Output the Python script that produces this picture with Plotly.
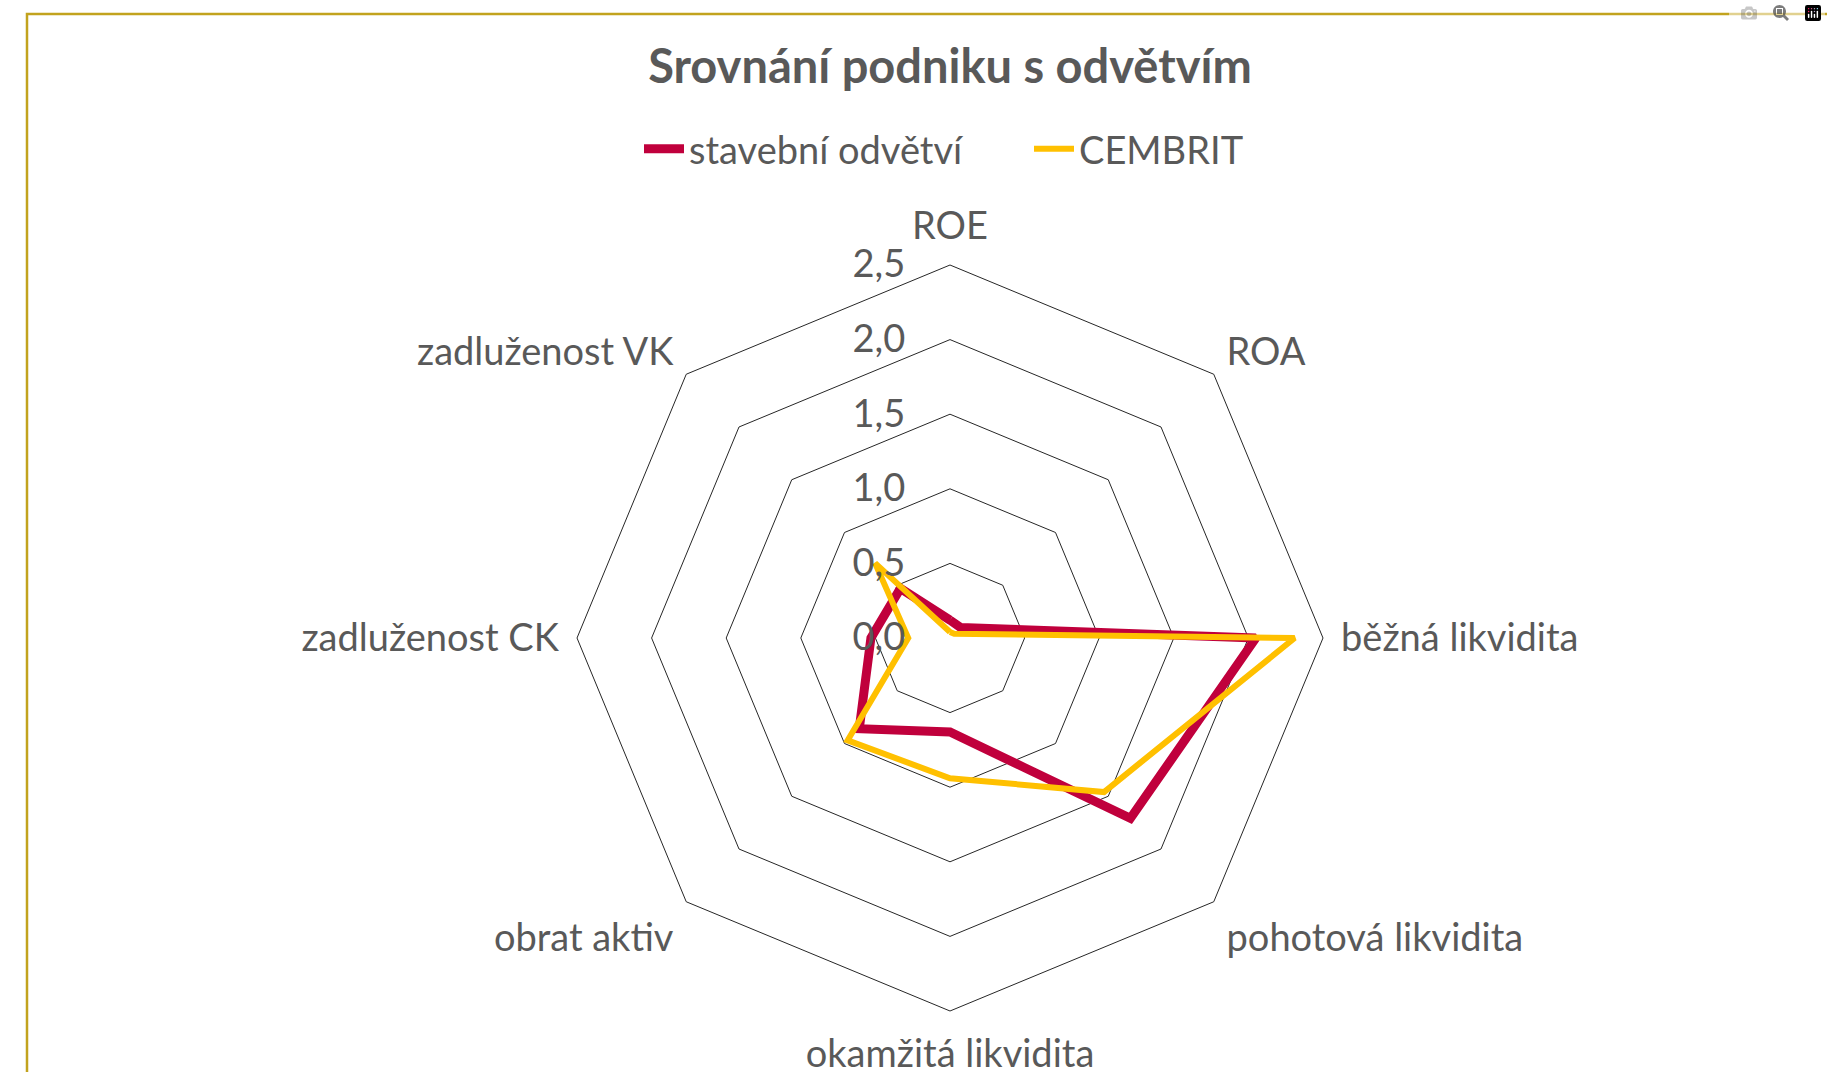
import plotly.graph_objects as go

categories = ["ROE", "ROA", "běžná likvidita", "pohotová likvidita",
              "okamžitá likvidita", "obrat aktiv", "zadluženost CK", "zadluženost VK"]
odvetvi = [0.12, 0.10, 2.05, 1.71, 0.63, 0.86, 0.53, 0.47]
cembrit = [0.04, 0.04, 2.31, 1.46, 0.94, 0.97, 0.28, 0.71]
radial_ticks = [0, 0.5, 1.0, 1.5, 2.0, 2.5]

W, H = 1827, 1072
cx, cy, R = 950, 638, 373
FONT = "Lato"
GRAY = "#595959"
LBL = 38

fig = go.Figure()
fig.add_trace(go.Scatterpolar(
    r=odvetvi + odvetvi[:1], theta=categories + categories[:1],
    mode="lines", name="stavební odvětví",
    line=dict(color="#C0003C", width=9)))
fig.add_trace(go.Scatterpolar(
    r=cembrit + cembrit[:1], theta=categories + categories[:1],
    mode="lines", name="CEMBRIT",
    line=dict(color="#FFC000", width=6)))

fig.update_layout(
    width=W, height=H,
    margin=dict(l=0, r=0, t=0, b=0),
    paper_bgcolor="white",
    separators=",.",
    font=dict(family=FONT, color=GRAY, size=LBL),
    title=dict(text="<b>Srovnání podniku s odvětvím</b>", x=cx / W, xanchor="center",
               y=1 - 67 / H, yanchor="middle",
               font=dict(family=FONT, size=47, color=GRAY)),
    legend=dict(orientation="h", x=(cx + 79) / W, xanchor="center", y=1 - 149 / H, yanchor="middle",
                font=dict(family=FONT, size=LBL, color=GRAY), itemwidth=40,
                entrywidth=335, bgcolor="rgba(0,0,0,0)"),
    polar=dict(
        domain=dict(x=[(cx - R) / W, (cx + R) / W], y=[(H - cy - R) / H, (H - cy + R) / H]),
        bgcolor="white",
        gridshape="linear",
        radialaxis=dict(range=[0, 2.5], tickvals=radial_ticks, tickformat=".1f",
                        angle=90, side="counterclockwise", tickangle=90,
                        ticks="outside", ticklen=31, tickcolor="rgba(0,0,0,0)",
                        showline=False, showgrid=True, gridcolor="#262626", gridwidth=1,
                        tickfont=dict(family=FONT, size=LBL, color=GRAY)),
        angularaxis=dict(direction="clockwise", rotation=90, showgrid=False,
                         showline=True, linecolor="#262626", linewidth=1,
                         ticks="outside", ticklen=10, tickcolor="rgba(0,0,0,0)",
                         tickfont=dict(family=FONT, size=LBL, color=GRAY)),
    ),
    shapes=[dict(type="rect", xref="paper", yref="paper",
                 x0=27 / W, x1=1.2, y0=-0.2, y1=1 - 14 / H,
                 line=dict(color="#C2A31E", width=2.5), layer="below")],
)

fig.write_html("out.html", post_script="document.body.style.margin='0';")
